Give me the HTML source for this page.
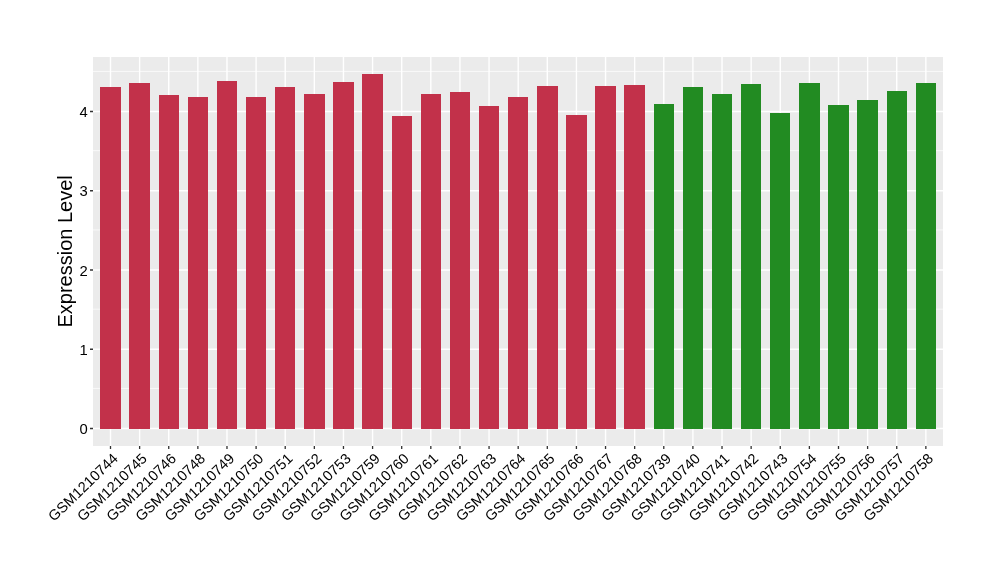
<!DOCTYPE html><html><head><meta charset="utf-8"><style>html,body{margin:0;padding:0;background:#fff;width:1000px;height:580px;overflow:hidden}svg{display:block}text{font-family:"Liberation Sans",Arial,Helvetica,sans-serif}</style></head><body>
<svg width="1000" height="580" viewBox="0 0 1000 580">
<rect x="0" y="0" width="1000" height="580" fill="#fff"/>
<rect x="93.0" y="57.0" width="850.00" height="389.00" fill="#EBEBEB"/>
<path d="M93.0 388.43H943.0M93.0 309.18H943.0M93.0 229.93H943.0M93.0 150.68H943.0M93.0 71.42H943.0" stroke="#fff" stroke-width="0.7" fill="none"/>
<path d="M93.0 428.50H943.0M93.0 349.25H943.0M93.0 270.00H943.0M93.0 190.75H943.0M93.0 111.50H943.0M110.50 57.0V446.0M139.62 57.0V446.0M168.74 57.0V446.0M197.86 57.0V446.0M226.98 57.0V446.0M256.10 57.0V446.0M285.22 57.0V446.0M314.34 57.0V446.0M343.46 57.0V446.0M372.58 57.0V446.0M401.70 57.0V446.0M430.82 57.0V446.0M459.94 57.0V446.0M489.06 57.0V446.0M518.18 57.0V446.0M547.30 57.0V446.0M576.42 57.0V446.0M605.54 57.0V446.0M634.66 57.0V446.0M663.78 57.0V446.0M692.90 57.0V446.0M722.02 57.0V446.0M751.14 57.0V446.0M780.26 57.0V446.0M809.38 57.0V446.0M838.50 57.0V446.0M867.62 57.0V446.0M896.74 57.0V446.0M925.86 57.0V446.0" stroke="#fff" stroke-width="1.4" fill="none"/>
<rect x="100" y="87" width="21" height="342" fill="#C2314A"/>
<rect x="129" y="83" width="21" height="346" fill="#C2314A"/>
<rect x="159" y="95" width="20" height="334" fill="#C2314A"/>
<rect x="188" y="97" width="20" height="332" fill="#C2314A"/>
<rect x="217" y="81" width="20" height="348" fill="#C2314A"/>
<rect x="246" y="97" width="20" height="332" fill="#C2314A"/>
<rect x="275" y="87" width="20" height="342" fill="#C2314A"/>
<rect x="304" y="94" width="21" height="335" fill="#C2314A"/>
<rect x="333" y="82" width="21" height="347" fill="#C2314A"/>
<rect x="362" y="74" width="21" height="355" fill="#C2314A"/>
<rect x="392" y="116" width="20" height="313" fill="#C2314A"/>
<rect x="421" y="94" width="20" height="335" fill="#C2314A"/>
<rect x="450" y="92" width="20" height="337" fill="#C2314A"/>
<rect x="479" y="106" width="20" height="323" fill="#C2314A"/>
<rect x="508" y="97" width="20" height="332" fill="#C2314A"/>
<rect x="537" y="86" width="21" height="343" fill="#C2314A"/>
<rect x="566" y="115" width="21" height="314" fill="#C2314A"/>
<rect x="595" y="86" width="21" height="343" fill="#C2314A"/>
<rect x="624" y="85" width="21" height="344" fill="#C2314A"/>
<rect x="654" y="104" width="20" height="325" fill="#228B22"/>
<rect x="683" y="87" width="20" height="342" fill="#228B22"/>
<rect x="712" y="94" width="20" height="335" fill="#228B22"/>
<rect x="741" y="84" width="20" height="345" fill="#228B22"/>
<rect x="770" y="113" width="20" height="316" fill="#228B22"/>
<rect x="799" y="83" width="21" height="346" fill="#228B22"/>
<rect x="828" y="105" width="21" height="324" fill="#228B22"/>
<rect x="857" y="100" width="21" height="329" fill="#228B22"/>
<rect x="887" y="91" width="20" height="338" fill="#228B22"/>
<rect x="916" y="83" width="20" height="346" fill="#228B22"/>
<path d="M90.00 428.50H93.0M90.00 349.25H93.0M90.00 270.00H93.0M90.00 190.75H93.0M90.00 111.50H93.0M110.50 446.0V449.00M139.62 446.0V449.00M168.74 446.0V449.00M197.86 446.0V449.00M226.98 446.0V449.00M256.10 446.0V449.00M285.22 446.0V449.00M314.34 446.0V449.00M343.46 446.0V449.00M372.58 446.0V449.00M401.70 446.0V449.00M430.82 446.0V449.00M459.94 446.0V449.00M489.06 446.0V449.00M518.18 446.0V449.00M547.30 446.0V449.00M576.42 446.0V449.00M605.54 446.0V449.00M634.66 446.0V449.00M663.78 446.0V449.00M692.90 446.0V449.00M722.02 446.0V449.00M751.14 446.0V449.00M780.26 446.0V449.00M809.38 446.0V449.00M838.50 446.0V449.00M867.62 446.0V449.00M896.74 446.0V449.00M925.86 446.0V449.00" stroke="#333333" stroke-width="1.3" fill="none"/>
<text x="87.8" y="434.00" font-size="14.8" text-anchor="end" fill="#000">0</text>
<text x="87.8" y="354.75" font-size="14.8" text-anchor="end" fill="#000">1</text>
<text x="87.8" y="275.50" font-size="14.8" text-anchor="end" fill="#000">2</text>
<text x="87.8" y="196.25" font-size="14.8" text-anchor="end" fill="#000">3</text>
<text x="87.8" y="117.00" font-size="14.8" text-anchor="end" fill="#000">4</text>
<text transform="translate(111.50 452.00) rotate(-44) scale(1 1.0)" x="0" y="10.45" font-size="14.6" text-anchor="end" fill="#000">GSM1210744</text>
<text transform="translate(140.62 452.00) rotate(-44) scale(1 1.0)" x="0" y="10.45" font-size="14.6" text-anchor="end" fill="#000">GSM1210745</text>
<text transform="translate(169.74 452.00) rotate(-44) scale(1 1.0)" x="0" y="10.45" font-size="14.6" text-anchor="end" fill="#000">GSM1210746</text>
<text transform="translate(198.86 452.00) rotate(-44) scale(1 1.0)" x="0" y="10.45" font-size="14.6" text-anchor="end" fill="#000">GSM1210748</text>
<text transform="translate(227.98 452.00) rotate(-44) scale(1 1.0)" x="0" y="10.45" font-size="14.6" text-anchor="end" fill="#000">GSM1210749</text>
<text transform="translate(257.10 452.00) rotate(-44) scale(1 1.0)" x="0" y="10.45" font-size="14.6" text-anchor="end" fill="#000">GSM1210750</text>
<text transform="translate(286.22 452.00) rotate(-44) scale(1 1.0)" x="0" y="10.45" font-size="14.6" text-anchor="end" fill="#000">GSM1210751</text>
<text transform="translate(315.34 452.00) rotate(-44) scale(1 1.0)" x="0" y="10.45" font-size="14.6" text-anchor="end" fill="#000">GSM1210752</text>
<text transform="translate(344.46 452.00) rotate(-44) scale(1 1.0)" x="0" y="10.45" font-size="14.6" text-anchor="end" fill="#000">GSM1210753</text>
<text transform="translate(373.58 452.00) rotate(-44) scale(1 1.0)" x="0" y="10.45" font-size="14.6" text-anchor="end" fill="#000">GSM1210759</text>
<text transform="translate(402.70 452.00) rotate(-44) scale(1 1.0)" x="0" y="10.45" font-size="14.6" text-anchor="end" fill="#000">GSM1210760</text>
<text transform="translate(431.82 452.00) rotate(-44) scale(1 1.0)" x="0" y="10.45" font-size="14.6" text-anchor="end" fill="#000">GSM1210761</text>
<text transform="translate(460.94 452.00) rotate(-44) scale(1 1.0)" x="0" y="10.45" font-size="14.6" text-anchor="end" fill="#000">GSM1210762</text>
<text transform="translate(490.06 452.00) rotate(-44) scale(1 1.0)" x="0" y="10.45" font-size="14.6" text-anchor="end" fill="#000">GSM1210763</text>
<text transform="translate(519.18 452.00) rotate(-44) scale(1 1.0)" x="0" y="10.45" font-size="14.6" text-anchor="end" fill="#000">GSM1210764</text>
<text transform="translate(548.30 452.00) rotate(-44) scale(1 1.0)" x="0" y="10.45" font-size="14.6" text-anchor="end" fill="#000">GSM1210765</text>
<text transform="translate(577.42 452.00) rotate(-44) scale(1 1.0)" x="0" y="10.45" font-size="14.6" text-anchor="end" fill="#000">GSM1210766</text>
<text transform="translate(606.54 452.00) rotate(-44) scale(1 1.0)" x="0" y="10.45" font-size="14.6" text-anchor="end" fill="#000">GSM1210767</text>
<text transform="translate(635.66 452.00) rotate(-44) scale(1 1.0)" x="0" y="10.45" font-size="14.6" text-anchor="end" fill="#000">GSM1210768</text>
<text transform="translate(664.78 452.00) rotate(-44) scale(1 1.0)" x="0" y="10.45" font-size="14.6" text-anchor="end" fill="#000">GSM1210739</text>
<text transform="translate(693.90 452.00) rotate(-44) scale(1 1.0)" x="0" y="10.45" font-size="14.6" text-anchor="end" fill="#000">GSM1210740</text>
<text transform="translate(723.02 452.00) rotate(-44) scale(1 1.0)" x="0" y="10.45" font-size="14.6" text-anchor="end" fill="#000">GSM1210741</text>
<text transform="translate(752.14 452.00) rotate(-44) scale(1 1.0)" x="0" y="10.45" font-size="14.6" text-anchor="end" fill="#000">GSM1210742</text>
<text transform="translate(781.26 452.00) rotate(-44) scale(1 1.0)" x="0" y="10.45" font-size="14.6" text-anchor="end" fill="#000">GSM1210743</text>
<text transform="translate(810.38 452.00) rotate(-44) scale(1 1.0)" x="0" y="10.45" font-size="14.6" text-anchor="end" fill="#000">GSM1210754</text>
<text transform="translate(839.50 452.00) rotate(-44) scale(1 1.0)" x="0" y="10.45" font-size="14.6" text-anchor="end" fill="#000">GSM1210755</text>
<text transform="translate(868.62 452.00) rotate(-44) scale(1 1.0)" x="0" y="10.45" font-size="14.6" text-anchor="end" fill="#000">GSM1210756</text>
<text transform="translate(897.74 452.00) rotate(-44) scale(1 1.0)" x="0" y="10.45" font-size="14.6" text-anchor="end" fill="#000">GSM1210757</text>
<text transform="translate(926.86 452.00) rotate(-44) scale(1 1.0)" x="0" y="10.45" font-size="14.6" text-anchor="end" fill="#000">GSM1210758</text>
<text transform="translate(72.0 251.4) rotate(-90) scale(1 1.0)" x="0" y="0" font-size="20.0" text-anchor="middle" fill="#000">Expression Level</text>
</svg></body></html>
